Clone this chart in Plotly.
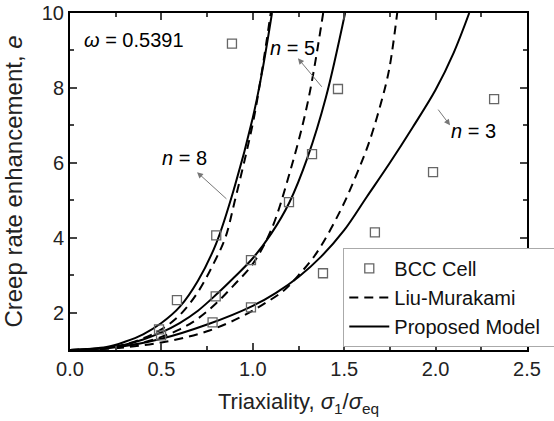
import plotly.graph_objects as go

# BCC cell data (triaxiality, creep rate enhancement)
bcc_x = [0.487, 0.585, 0.80, 0.886, 0.498, 0.797, 0.99, 1.198, 1.324, 1.466,
         0.78, 0.99, 1.384, 1.668, 1.986, 2.32]
bcc_e = [1.55, 2.33, 4.06, 9.18, 1.39, 2.43, 3.40, 4.95, 6.23, 7.97,
         1.74, 2.14, 3.05, 4.14, 5.75, 7.70]

# Proposed model curves
pm8_x = [0, 0.2, 0.3, 0.4, 0.5, 0.6, 0.7, 0.8, 0.9, 1.0, 1.05, 1.105]
pm8_e = [1, 1.08, 1.22, 1.42, 1.72, 2.15, 2.85, 3.85, 5.35, 7.2, 8.4, 10]
pm5_x = [0, 0.2, 0.3, 0.4, 0.5, 0.6, 0.7, 0.8, 0.9, 1.0, 1.1, 1.2, 1.3, 1.4, 1.505]
pm5_e = [1, 1.06, 1.14, 1.28, 1.47, 1.72, 2.05, 2.48, 2.95, 3.45, 4.1, 4.94, 6.15, 7.75, 10]
pm3_x = [0, 0.25, 0.5, 0.75, 1.0, 1.125, 1.25, 1.375, 1.5, 1.625, 1.75, 1.875, 2.0, 2.1, 2.184]
pm3_e = [1, 1.07, 1.3, 1.68, 2.18, 2.52, 2.95, 3.5, 4.2, 5.1, 6.0, 6.95, 7.95, 8.95, 10]

# Liu-Murakami curves
lm8_x = [0, 0.2, 0.3, 0.4, 0.5, 0.6, 0.7, 0.8, 0.85, 0.9, 1.0, 1.05, 1.098]
lm8_e = [1, 1.05, 1.15, 1.31, 1.55, 1.93, 2.55, 3.45, 4.0, 4.95, 7.05, 8.45, 10]
lm5_x = [0, 0.2, 0.3, 0.4, 0.5, 0.6, 0.7, 0.8, 0.9, 1.0, 1.1, 1.2, 1.3, 1.385]
lm5_e = [1, 1.04, 1.1, 1.2, 1.35, 1.55, 1.84, 2.25, 2.75, 3.3, 4.2, 5.7, 7.6, 10]
lm3_x = [0, 0.25, 0.5, 0.75, 0.93, 1.05, 1.17, 1.26, 1.35, 1.48, 1.57, 1.64, 1.72, 1.75, 1.79]
lm3_e = [1, 1.05, 1.2, 1.5, 1.87, 2.2, 2.59, 3.05, 3.6, 4.73, 5.72, 6.6, 7.94, 8.6, 10]

x_ticks = [0.0, 0.5, 1.0, 1.5, 2.0, 2.5]
x_tick_labels = ["0.0", "0.5", "1.0", "1.5", "2.0", "2.5"]
y_ticks = [2, 4, 6, 8, 10]
y_tick_labels = ["2", "4", "6", "8", "10"]

FONT = "Liberation Sans, Arial, sans-serif"
fig = go.Figure()

dash_style = "9px,6px"
for i, (xs, es) in enumerate([(lm8_x, lm8_e), (lm5_x, lm5_e), (lm3_x, lm3_e)]):
    fig.add_trace(go.Scatter(x=xs, y=es, mode="lines", line=dict(color="black", width=2, dash=dash_style, shape="spline", smoothing=1),
                             name="Liu-Murakami", legendgroup="lm", showlegend=(i == 0), legendrank=2))
for i, (xs, es) in enumerate([(pm8_x, pm8_e), (pm5_x, pm5_e), (pm3_x, pm3_e)]):
    fig.add_trace(go.Scatter(x=xs, y=es, mode="lines", line=dict(color="black", width=2, shape="spline", smoothing=1),
                             name="Proposed Model\u00a0\u00a0\u00a0", legendgroup="pm", showlegend=(i == 0), legendrank=3))
fig.add_trace(go.Scatter(x=bcc_x, y=bcc_e, mode="markers", name="BCC Cell", legendrank=1,
                         marker=dict(symbol="square-open", size=9, color="#666", line=dict(width=1.3, color="#666")),
                         cliponaxis=False))

AF = dict(size=20, family=FONT, color="black")
ann = []
ann.append(dict(x=0.35, y=9.27, text="<i>ω</i> = 0.5391", showarrow=False, font=AF))
ann.append(dict(x=0.625, y=6.12, text="<i>n</i> = 8", showarrow=False, font=AF))
ann.append(dict(x=1.215, y=9.06, text="<i>n</i> = 5", showarrow=False, font=AF))
ann.append(dict(x=2.21, y=6.84, text="<i>n</i> = 3", showarrow=False, font=AF))
for tip, tail in [((0.695, 5.75), (0.864, 5.0)), ((1.247, 8.79), (1.384, 7.99)), ((2.079, 7.0), (2.008, 7.46))]:
    ann.append(dict(x=tip[0], y=tip[1], ax=tail[0], ay=tail[1], xref="x", yref="y", axref="x", ayref="y",
                    text="", showarrow=True, arrowhead=2, arrowsize=1.2, arrowwidth=1, arrowcolor="#777"))

fig.update_layout(
    width=554, height=421,
    margin=dict(l=70, r=27, t=13, b=71, autoexpand=False),
    paper_bgcolor="white", plot_bgcolor="white",
    font=dict(family=FONT, size=20, color="#222"),
    annotations=ann,
    legend=dict(x=0.598, y=0.303, xanchor="left", yanchor="top", bgcolor="white",
                bordercolor="#aaa", borderwidth=1, font=dict(size=20, color="#111"),
                tracegroupgap=0, itemwidth=40),
    xaxis=dict(range=[0, 2.5], tickvals=x_ticks, ticktext=x_tick_labels, ticks="inside", ticklen=7, tickwidth=1.5,
               showline=True, linecolor="black", linewidth=2, mirror="ticks", showgrid=False, zeroline=False,
               automargin=False, tickfont=dict(size=20), ticklabeloverflow="allow",
               minor=dict(ticks="inside", ticklen=4, tickwidth=1.5, dtick=0.25, tick0=0),
               title=dict(text="Triaxiality, <i>σ</i><sub>1</sub>/<i>σ</i><sub>eq</sub>", font=dict(size=22, color="#222"))),
    yaxis=dict(range=[1, 10], tickvals=y_ticks, ticktext=y_tick_labels, ticks="inside", ticklen=7, tickwidth=1.5,
               showline=True, linecolor="black", linewidth=2, mirror="ticks", showgrid=False, zeroline=False,
               automargin=False, tickfont=dict(size=20), ticklabeloverflow="allow",
               minor=dict(ticks="inside", ticklen=4, tickwidth=1.5, dtick=1, tick0=1),
               title=dict(text="Creep rate enhancement, <i>e</i>", font=dict(size=24, color="#222"))),
)
fig.write_html("out.html", config={"displayModeBar": False},
               post_script="document.body.style.margin='0px';")
